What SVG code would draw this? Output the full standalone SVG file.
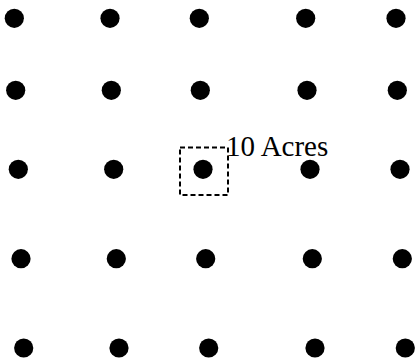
<svg xmlns="http://www.w3.org/2000/svg" width="417" height="364" viewBox="0 0 417 364">
<style>
.d{fill:#000}
.box{fill:none;stroke:#000;stroke-width:2;stroke-dasharray:5,3}
.t{font-family:"Liberation Serif","Times New Roman",serif;font-size:29px;fill:#000}
</style>
<rect width="417" height="364" fill="#fff"/>
<g id="dots">
<circle class="d" cx="14.3" cy="18.3" r="9.6"/>
<circle class="d" cx="110" cy="18.3" r="9.6"/>
<circle class="d" cx="199.3" cy="18.3" r="9.6"/>
<circle class="d" cx="305.7" cy="18.3" r="9.6"/>
<circle class="d" cx="396" cy="18.3" r="9.6"/>
<circle class="d" cx="15.7" cy="90.3" r="9.6"/>
<circle class="d" cx="111.3" cy="90.3" r="9.6"/>
<circle class="d" cx="200.3" cy="90.3" r="9.6"/>
<circle class="d" cx="307" cy="90.3" r="9.6"/>
<circle class="d" cx="397.3" cy="90.3" r="9.6"/>
<circle class="d" cx="18.3" cy="169.3" r="9.6"/>
<circle class="d" cx="113.7" cy="169.3" r="9.6"/>
<circle class="d" cx="203" cy="169.3" r="9.6"/>
<circle class="d" cx="310" cy="169.3" r="9.6"/>
<circle class="d" cx="400" cy="169.3" r="9.6"/>
<circle class="d" cx="21" cy="258.7" r="9.6"/>
<circle class="d" cx="116.3" cy="258.7" r="9.6"/>
<circle class="d" cx="205.7" cy="258.7" r="9.6"/>
<circle class="d" cx="312.3" cy="258.7" r="9.6"/>
<circle class="d" cx="402.3" cy="258.7" r="9.6"/>
<circle class="d" cx="23.7" cy="348" r="9.6"/>
<circle class="d" cx="119" cy="348" r="9.6"/>
<circle class="d" cx="208.7" cy="348" r="9.6"/>
<circle class="d" cx="315" cy="348" r="9.6"/>
<circle class="d" cx="405.3" cy="348" r="9.6"/>
</g>
<g id="plot">
<rect class="box" x="180" y="147.5" width="48" height="47.5"/>
<text class="t" x="226" y="156">10 Acres</text>
</g>
</svg>
